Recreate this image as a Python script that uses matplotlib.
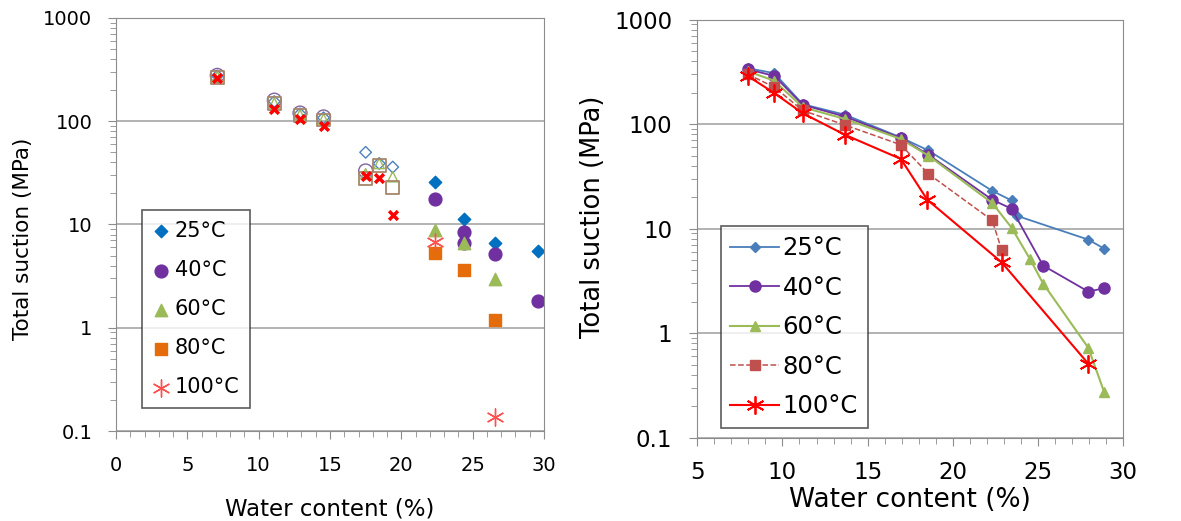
import matplotlib.pyplot as plt
from matplotlib.ticker import FixedLocator, NullFormatter

# 左图：实心点（图例里的系列）
temps = ["25°C", "40°C", "60°C", "80°C", "100°C"]

w25 = [22.35, 24.4, 26.6, 29.55]
s25 = [25.9, 11.2, 6.65, 5.6]
w40 = [22.35, 24.4, 24.4, 26.6, 29.55]
s40 = [17.6, 8.5, 6.6, 5.13, 1.83]
w60 = [22.35, 24.4, 26.6]
s60 = [8.8, 6.65, 2.98]
w80 = [22.35, 24.4, 26.6]
s80 = [5.24, 3.6, 1.2]
w100 = [22.35, 26.6]
s100 = [6.8, 0.1355]

# 左图：空心点（无图例）
wh = [7.1, 11.1, 12.9, 14.55, 17.5, 18.45, 19.4]
h25 = [275, 155, 118, 108, 50, 39, 36]
wh40 = [7.1, 11.1, 12.9, 14.55, 17.5]
h40 = [278, 160, 120, 110, 33]
h60 = [270, 150, 115, 105, 31, 39, 29]
h80 = [265, 148, 113, 103, 28, 37, 23]
h100 = [265, 131, 104.5, 90, 29.4, 28.3, 12.3]

# 右图
r25_w = [7.96, 9.52, 11.19, 13.67, 16.95, 18.56, 22.31, 23.45, 23.74, 27.95, 28.88]
r25_s = [343, 307, 155, 123, 74.5, 56, 23, 18.6, 13.3, 7.85, 6.44]
r40_w = [7.96, 9.52, 11.19, 13.67, 16.95, 18.56, 22.31, 23.45, 25.3, 27.95, 28.88]
r40_s = [335, 289, 153, 118, 73.5, 51, 18.9, 15.5, 4.43, 2.5, 2.69]
r60_w = [7.96, 9.52, 11.19, 13.67, 16.95, 18.56, 22.31, 23.45, 24.52, 25.3, 27.95, 28.88]
r60_s = [320, 260, 145, 112, 72, 50, 17.6, 10.2, 5.14, 2.98, 0.724, 0.273]
r80_w = [7.96, 9.52, 11.19, 13.67, 16.95, 18.56, 22.31, 22.86]
r80_s = [300, 226, 135, 98, 63.4, 33.5, 12.0, 6.3]
r100_w = [7.96, 9.52, 11.19, 13.67, 16.95, 18.5, 22.86, 27.95]
r100_s = [289, 198, 127, 79, 46.4, 18.9, 4.77, 0.51]

plt.rcParams['font.family'] = ['DejaVu Sans']
fig = plt.figure(figsize=(11.81, 5.21), dpi=100)

yticks = [0.1, 1, 10, 100, 1000]
ylabels = ["0.1", "1", "10", "100", "1000"]
minors = [m * 10.0 ** e for e in range(-1, 3) for m in range(2, 10)]


def style_axes(ax, fs, xpad, ypad):
    ax.set_yscale("log")
    ax.set_ylim(0.1, 1000)
    ax.yaxis.set_major_locator(FixedLocator(yticks))
    ax.set_yticklabels(ylabels)
    ax.yaxis.set_minor_locator(FixedLocator(minors))
    ax.yaxis.set_minor_formatter(NullFormatter())
    ax.grid(True, axis="y", which="major", color="#a6a6a6", lw=1.2)
    ax.set_axisbelow(True)
    for sp in ax.spines.values():
        sp.set_color("#8c8c8c")
    ax.tick_params(which="both", direction="out", color="#8c8c8c", labelsize=fs)
    ax.tick_params(which="major", length=6)
    ax.tick_params(which="minor", length=4)
    ax.tick_params(axis="x", which="major", pad=xpad)
    ax.tick_params(axis="y", which="major", pad=ypad)


# ---- 左图 ----
ax1 = fig.add_axes([0.0982, 0.1727, 0.3624, 0.7928])
style_axes(ax1, 14, 12, 11)
ax1.set_xlim(0, 30)
ax1.set_xticks(range(0, 31, 5))
ax1.set_xticks(range(0, 31), minor=True)

ax1.scatter(wh, h25, marker="D", s=35, facecolors="none", edgecolors="#4f81bd", lw=1)
ax1.scatter(wh40, h40, marker="o", s=100, facecolors="none", edgecolors="#8064a2", lw=1)
ax1.scatter(wh, h60, marker="^", s=55, facecolors="none", edgecolors="#9bbb59", lw=1)
ax1.scatter(wh, h80, marker="s", s=85, facecolors="none", edgecolors="#a6876a", lw=1.3)
ax1.scatter(wh, h100, marker="x", s=40, color="#ff0000", lw=2.5)

ax1.scatter(w25, s25, marker="D", s=40, color="#0070c0", label=temps[0])
ax1.scatter(w40, s40, marker="o", s=85, color="#7030a0", label=temps[1])
ax1.scatter(w60, s60, marker="^", s=80, color="#9bbb59", label=temps[2])
ax1.scatter(w80, s80, marker="s", s=85, color="#e46c0a", label=temps[3])
ax1.scatter(w100, s100, marker=(6, 2, 0), s=150, color="#ff5050", lw=1, label=temps[4])

ax1.set_xlabel("Water content (%)", fontsize=16.5, labelpad=16)
ax1.set_ylabel("Total suction (MPa)", fontsize=15.5)
ax1.yaxis.set_label_coords(-0.194, 0.465)
leg1 = ax1.legend(loc="lower left", bbox_to_anchor=(0.06, 0.056), fontsize=15,
                  frameon=True, fancybox=False, edgecolor="#333333", handletextpad=0.2,
                  borderpad=0.5, labelspacing=0.92, handlelength=0.9, borderaxespad=0)
leg1.get_frame().set_linewidth(1.2)

# ---- 右图 ----
ax2 = fig.add_axes([0.5904, 0.1599, 0.3607, 0.8025])
style_axes(ax2, 16.5, 11, 12)
ax2.set_xlim(5, 30)
ax2.set_xticks(range(5, 31, 5))
ax2.set_xticks(range(5, 31), minor=True)

ax2.plot(r25_w, r25_s, "-D", color="#4a7ebb", ms=5, lw=1.3, label=temps[0])
ax2.plot(r40_w, r40_s, "-o", color="#7030a0", ms=8, lw=1.3, label=temps[1])
ax2.plot(r60_w, r60_s, "-^", color="#9bbb59", ms=7, lw=1.5, label=temps[2])
ax2.plot(r80_w, r80_s, "--s", color="#c0504d", ms=7, lw=1.1, label=temps[3])
ax2.plot(r100_w, r100_s, "-", marker=(6, 2, 0), color="#ff0000", ms=13, mew=1.3,
         lw=1.5, label=temps[4])

ax2.set_xlabel("Water content (%)", fontsize=19, labelpad=2)
ax2.set_ylabel("Total suction (MPa)", fontsize=18.5)
ax2.yaxis.set_label_coords(-0.214, 0.528)
leg2 = ax2.legend(loc="lower left", bbox_to_anchor=(0.055, 0.023), fontsize=17.5,
                  frameon=True, fancybox=False, edgecolor="#333333", handletextpad=0.15,
                  borderpad=0.4, labelspacing=0.64, handlelength=2.0, borderaxespad=0)
leg2.get_frame().set_linewidth(1.2)

fig.savefig("out.png", dpi=100)
